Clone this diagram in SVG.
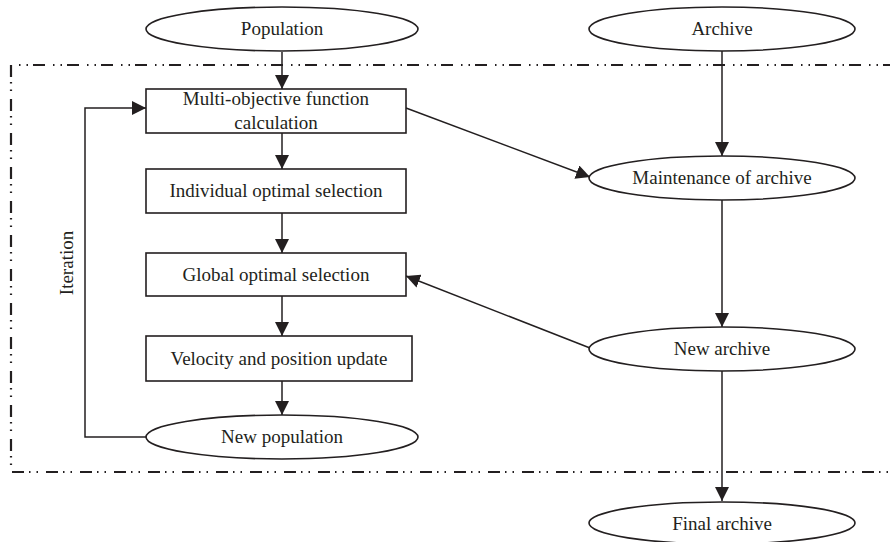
<svg xmlns="http://www.w3.org/2000/svg" width="890" height="542" viewBox="0 0 890 542">
<style>
.shape{fill:#fff;stroke:#231f20;stroke-width:1.6}
.lbl{font-family:"Liberation Serif","Times New Roman",serif;font-size:19px;fill:#231f20;text-anchor:middle}
.edge{fill:none;stroke:#231f20;stroke-width:1.5}
.frame{fill:none;stroke:#231f20;stroke-width:2.2;stroke-dasharray:12 5 1.5 6 1.5 8}
</style>
<defs>
<marker id="ah" viewBox="0 0 14 14" refX="14" refY="7" markerWidth="14" markerHeight="14" markerUnits="userSpaceOnUse" orient="auto">
<path d="M0,0 L14,7 L0,14 Z" fill="#231f20"/>
</marker>
</defs>
<rect width="890" height="542" fill="#fff"/>
<path class="frame" d="M895,65 L11,65 L11,472 L895,472"/>
<g id="connectors">
<line class="edge" x1="282" y1="52" x2="282" y2="89" marker-end="url(#ah)"/>
<line class="edge" x1="282" y1="133" x2="282" y2="169" marker-end="url(#ah)"/>
<line class="edge" x1="282" y1="213" x2="282" y2="253" marker-end="url(#ah)"/>
<line class="edge" x1="282" y1="296" x2="282" y2="336" marker-end="url(#ah)"/>
<line class="edge" x1="282" y1="381" x2="282" y2="415" marker-end="url(#ah)"/>
<polyline class="edge" points="147,437 85,437 85,108 146,108" marker-end="url(#ah)"/>
<line class="edge" x1="722" y1="51" x2="722" y2="156" marker-end="url(#ah)"/>
<line class="edge" x1="406" y1="108" x2="590" y2="177" marker-end="url(#ah)"/>
<line class="edge" x1="722" y1="200" x2="722" y2="327" marker-end="url(#ah)"/>
<line class="edge" x1="590" y1="348" x2="406" y2="276" marker-end="url(#ah)"/>
<line class="edge" x1="722" y1="371" x2="722" y2="501" marker-end="url(#ah)"/>
</g>
<text class="lbl" transform="translate(73,263) rotate(-90)">Iteration</text>
<g id="population"><ellipse class="shape" cx="282" cy="29" rx="136" ry="22"/><text class="lbl" x="282" y="35">Population</text></g>
<g id="archive"><ellipse class="shape" cx="722" cy="29" rx="133" ry="22"/><text class="lbl" x="722" y="35">Archive</text></g>
<g id="multi"><rect class="shape" x="146" y="89" width="260" height="44"/><text class="lbl" x="276" y="105">Multi-objective function</text><text class="lbl" x="276" y="129">calculation</text></g>
<g id="individual"><rect class="shape" x="146" y="169" width="260" height="44"/><text class="lbl" x="276" y="197">Individual optimal selection</text></g>
<g id="global"><rect class="shape" x="146" y="253" width="260" height="43"/><text class="lbl" x="276" y="281">Global optimal selection</text></g>
<g id="velocity"><rect class="shape" x="146" y="336" width="266" height="45"/><text class="lbl" x="279" y="365">Velocity and position update</text></g>
<g id="newpop"><ellipse class="shape" cx="282" cy="437" rx="136" ry="22"/><text class="lbl" x="282" y="443">New population</text></g>
<g id="maintenance"><ellipse class="shape" cx="722" cy="178" rx="133" ry="22"/><text class="lbl" x="722" y="184">Maintenance of archive</text></g>
<g id="newarchive"><ellipse class="shape" cx="722" cy="349" rx="133" ry="22"/><text class="lbl" x="722" y="355">New archive</text></g>
<g id="final"><ellipse class="shape" cx="722" cy="523" rx="133" ry="21"/><text class="lbl" x="722" y="530">Final archive</text></g>
</svg>
